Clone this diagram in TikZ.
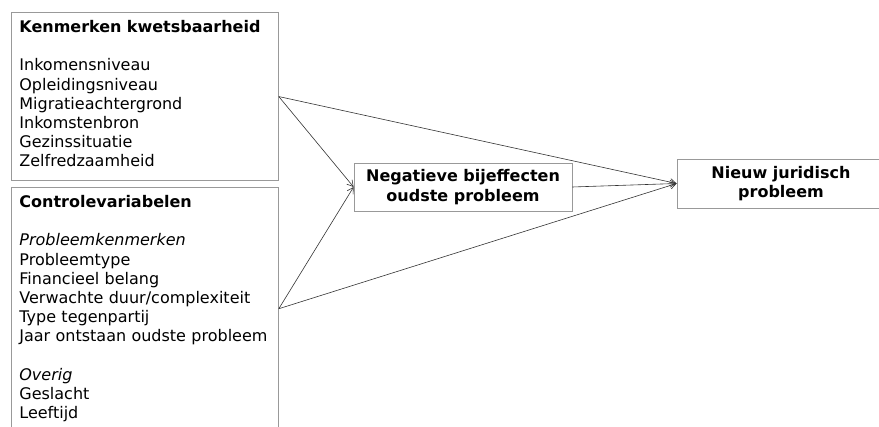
\documentclass[tikz,border=0pt]{standalone}
\usepackage{fontspec}
\setmainfont{DejaVu Sans}
\usetikzlibrary{arrows.meta}

\begin{document}
\begin{tikzpicture}
[x=1pt,y=-1pt,%
  boxDecorate/.style={font=\fontsize{16}{19.2}\selectfont,draw=black!40,line width=0.8pt,inner xsep=8pt,inner ysep=8pt,anchor=north west,text width=251pt,align=left},%
  effectDecorate/.style={font=\fontsize{16}{19.2}\selectfont\bfseries,draw=black!40,line width=0.8pt,align=center,inner sep=0pt},%
  lineDecorate/.style={draw=black!80,line width=0.6pt,-{Straight Barb[length=6pt,width=7pt]}}]
\useasboundingbox (0,0) rectangle (879,427);
\clip (0,0) rectangle (879,427);
%% left boxes
\node[boxDecorate] (kenmerken) at (11,12) {\textbf{Kenmerken kwetsbaarheid}\\[19.2pt]
  Inkomensniveau\\
  Opleidingsniveau\\
  Migratieachtergrond\\
  Inkomstenbron\\
  Gezinssituatie\\
  Zelfredzaamheid\strut};
\node[boxDecorate] (controle) at (11,187) {\textbf{Controlevariabelen}\\[19.2pt]
  \textit{Probleemkenmerken}\\
  Probleemtype\\
  Financieel belang\\
  Verwachte duur/complexiteit\\
  Type tegenpartij\\
  Jaar ontstaan oudste probleem\\[19.2pt]
  \textit{Overig}\\
  Geslacht\\
  Leeftijd};
%% mediator and outcome
\node[effectDecorate,minimum width=218pt,minimum height=48pt] (bijeffecten) at (463,187) {Negatieve bijeffecten\\oudste probleem};
\node[effectDecorate,minimum width=208pt,minimum height=49pt] (juridisch) at (781,183.5) {Nieuw juridisch\\probleem};
%% connect boxes
\draw[lineDecorate] (kenmerken.east) -- (bijeffecten.west);
\draw[lineDecorate] (kenmerken.east) -- (juridisch.west);
\draw[lineDecorate] (controle.east) -- (bijeffecten.west);
\draw[lineDecorate] (controle.east) -- (juridisch.west);
\draw[lineDecorate] (bijeffecten.east) -- (juridisch.west);
\end{tikzpicture}
\end{document}
